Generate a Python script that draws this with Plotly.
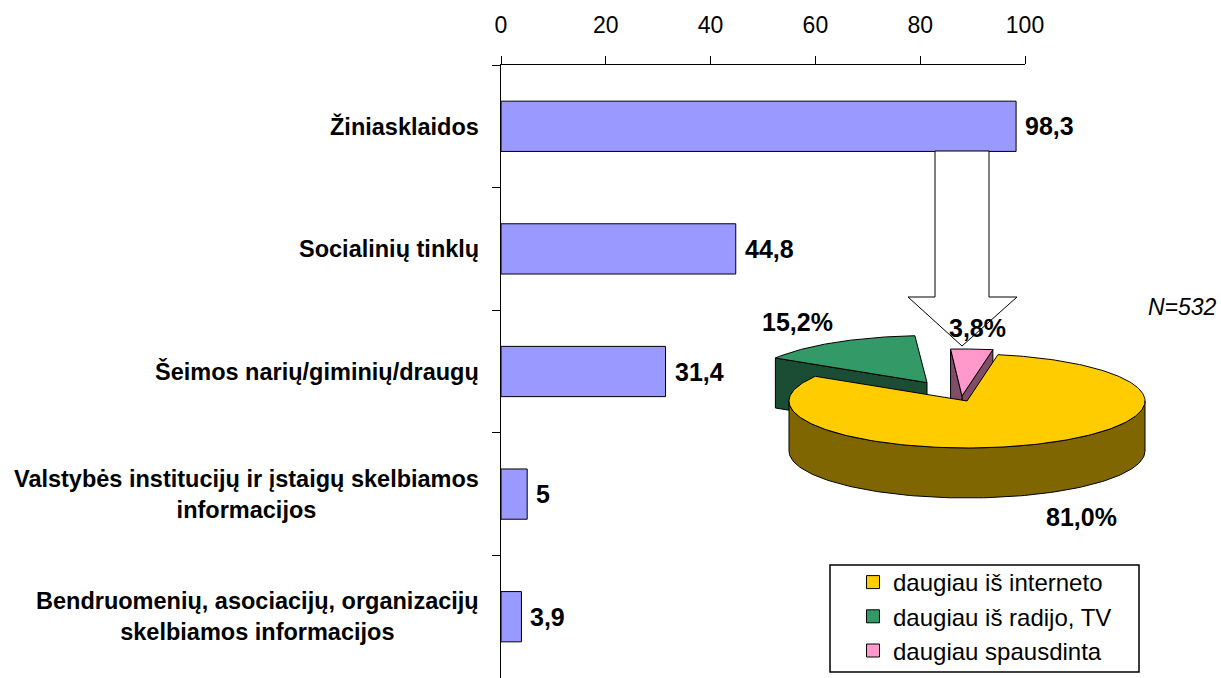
import numpy as np
import plotly.graph_objects as go

# ---------------- data ----------------
categories = [
    "Žiniasklaidos",
    "Socialinių tinklų",
    "Šeimos narių/giminių/draugų",
    "Valstybės institucijų ir įstaigų skelbiamos<br>informacijos",
    "Bendruomenių, asociacijų, organizacijų<br>skelbiamos informacijos",
]
values = [98.3, 44.8, 31.4, 5, 3.9]
x_ticks = [0, 20, 40, 60, 80, 100]

pie_labels = ["daugiau iš interneto", "daugiau iš radijo, TV", "daugiau spausdinta"]
pie_values = [81.0, 15.2, 3.8]
sample_note = "N=532"

# ---------------- style ----------------
W, H = 1221, 678
FONT = "Liberation Sans, Arial, sans-serif"
bar_color = "#9999FF"
pie_colors = ["#FFCC00", "#339966", "#FF99CC"]
pie_side_colors = ["#806600", "#1A4D33", "#804D66"]
pie_explode = [0.074, 0.377, 0.039]
pie_label_pos = [(1081, 517), (797, 322), (977, 328)]

# pie geometry (pixel units on the overlay axes)
cx, cy = 961.6, 397.8
ra, rb = 178.0, 47.0
depth = 50.0
start_deg = 80.0


def fmt(v):
    return str(v).replace(".", ",")


fig = go.Figure()

# ---------------- bars ----------------
fig.add_trace(go.Bar(
    y=categories, x=values, orientation="h",
    marker=dict(color=bar_color, line=dict(color="black", width=1)),
    width=0.41, showlegend=False, hoverinfo="skip",
))

annotations = []
for c, v in zip(categories, values):
    annotations.append(dict(
        x=v, y=c, xref="x", yref="y", text="<b>" + fmt(v) + "</b>",
        showarrow=False, xanchor="left", yanchor="middle", xshift=7,
        font=dict(family=FONT, size=25, color="black"),
    ))
    annotations.append(dict(
        x=481 / W, y=c, xref="paper", yref="y", text="<b>" + c + "</b>",
        showarrow=False, xanchor="right", yanchor="middle", align="center",
        font=dict(family=FONT, size=23.5, color="black"),
    ))

# ---------------- 3D pie ----------------
def pt(theta_deg, dx, dy, z):
    t = np.radians(theta_deg)
    return cx + dx + ra * np.cos(t), cy + dy - rb * np.sin(t) + z


slices = []
cum = 0.0
total = sum(pie_values)
for i, v in enumerate(pie_values):
    hi = start_deg - cum / total * 360.0
    lo = hi - v / total * 360.0
    cum += v
    mid = np.radians((lo + hi) / 2)
    dx = pie_explode[i] * ra * np.cos(mid)
    dy = -pie_explode[i] * rb * np.sin(mid)
    slices.append(dict(i=i, lo=lo, hi=hi, dx=dx, dy=dy, sinmid=np.sin(mid)))

order = sorted(slices, key=lambda s: -s["sinmid"])


def poly_trace(xs, ys, fill):
    return go.Scatter(
        x=list(xs) + [xs[0]], y=list(ys) + [ys[0]], xaxis="x2", yaxis="y2",
        mode="lines", fill="toself", fillcolor=fill,
        line=dict(color="black", width=1), showlegend=False, hoverinfo="skip",
    )


for s in order:
    i, lo, hi, dx, dy = s["i"], s["lo"], s["hi"], s["dx"], s["dy"]
    side = pie_side_colors[i]
    for th, visible in ((lo, np.cos(np.radians(lo)) > 0), (hi, np.cos(np.radians(hi)) < 0)):
        if visible:
            a0 = pt(th, dx, dy, 0)
            a1 = pt(th, dx, dy, depth)
            c0 = (cx + dx, cy + dy)
            c1 = (cx + dx, cy + dy + depth)
            fig.add_trace(poly_trace([c0[0], a0[0], a1[0], c1[0]],
                                     [c0[1], a0[1], a1[1], c1[1]], side))
    for k in range(-3, 3):
        f0, f1 = 180 + 360 * k, 360 + 360 * k
        s0, s1 = max(lo, f0), min(hi, f1)
        if s1 > s0:
            th = np.linspace(s0, s1, 120)
            tx, ty = pt(th, dx, dy, 0)
            bx, by = pt(th[::-1], dx, dy, depth)
            fig.add_trace(poly_trace(np.concatenate([tx, bx]), np.concatenate([ty, by]), side))
    th = np.linspace(lo, hi, 240)
    ax_, ay_ = pt(th, dx, dy, 0)
    xs = np.concatenate([[cx + dx], ax_])
    ys = np.concatenate([[cy + dy], ay_])
    fig.add_trace(poly_trace(xs, ys, pie_colors[i]))

for lab, col in zip(pie_labels, pie_colors):
    fig.add_trace(go.Scatter(
        x=[None], y=[None], xaxis="x2", yaxis="y2", mode="markers", name=lab,
        marker=dict(symbol="square", size=13, color=col, line=dict(color="black", width=1)),
    ))

for (lx, ly), v in zip(pie_label_pos, pie_values):
    annotations.append(dict(
        x=lx, y=ly, xref="x2", yref="y2", text="<b>" + f"{v:.1f}".replace(".", ",") + "%</b>",
        showarrow=False, xanchor="center", yanchor="middle",
        font=dict(family=FONT, size=25, color="black"),
    ))

annotations.append(dict(
    x=1182, y=307, xref="x2", yref="y2", text="<i>" + sample_note + "</i>",
    showarrow=False, xanchor="center", yanchor="middle",
    font=dict(family=FONT, size=23, color="black"),
))

shapes = [
    dict(type="path", xref="x2", yref="y2",
         path="M935,151 L935,297 L908,297 L962,346 L1017,297 L989,297 L989,151 Z",
         fillcolor="white", line=dict(color="black", width=1), layer="above"),
    dict(type="rect", xref="x2", yref="y2", x0=830, x1=1139, y0=565, y1=672,
         fillcolor="rgba(0,0,0,0)", line=dict(color="black", width=1.5)),
]

fig.update_layout(
    width=W, height=H, autosize=False,
    margin=dict(l=0, r=0, t=0, b=0, pad=0, autoexpand=False),
    paper_bgcolor="white", plot_bgcolor="rgba(0,0,0,0)",
    font=dict(family=FONT, color="black"),
    xaxis=dict(
        domain=[501 / W, 1025 / W], range=[0, 100], side="top",
        tickvals=x_ticks, ticktext=[str(t) for t in x_ticks],
        ticks="outside", ticklen=8, tickcolor="black", tickwidth=1,
        showline=True, linecolor="black", linewidth=1, showgrid=False,
        zeroline=False, tickfont=dict(family=FONT, size=23, color="black"),
        ticklabelstandoff=14, anchor="y", fixedrange=True, automargin=False,
    ),
    yaxis=dict(
        domain=[0, 1 - 65 / H], autorange="reversed",
        showticklabels=False, ticks="outside", tickson="boundaries",
        ticklen=8, tickcolor="black", showline=True, linecolor="black",
        linewidth=1, showgrid=False, zeroline=False, anchor="x", automargin=False,
    ),
    xaxis2=dict(domain=[0, 1], range=[0, W], visible=False, anchor="y2",
                fixedrange=True, automargin=False),
    yaxis2=dict(domain=[0, 1], range=[H, 0], visible=False, anchor="x2",
                fixedrange=True, automargin=False),
    legend=dict(
        x=853 / W, y=1 - 560 / H, xanchor="left", yanchor="top",
        bgcolor="rgba(0,0,0,0)", borderwidth=0, tracegroupgap=0,
        font=dict(family=FONT, size=24, color="black"),
    ),
    annotations=annotations,
    shapes=shapes,
)

fig.write_html(
    "out.html",
    config={"displayModeBar": False, "responsive": False},
    post_script="document.body.style.margin='0';document.body.style.overflow='hidden';",
)
